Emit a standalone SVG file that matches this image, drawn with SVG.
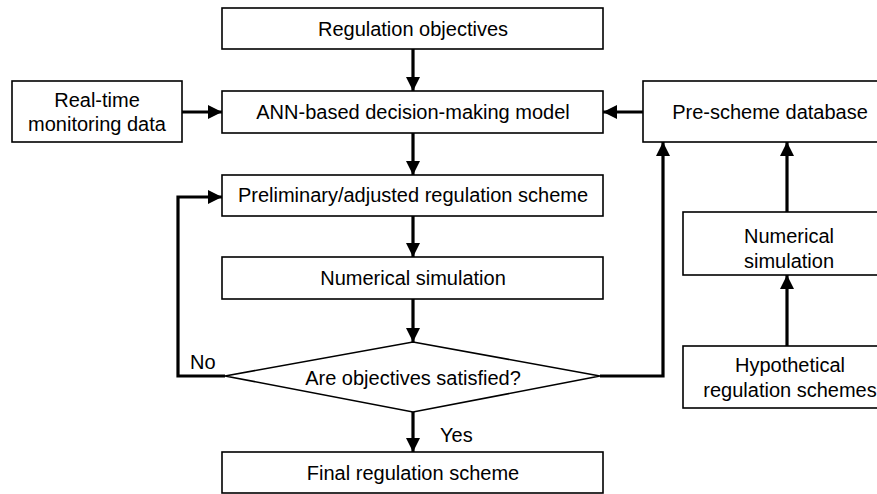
<svg xmlns="http://www.w3.org/2000/svg" width="877" height="494" viewBox="0 0 877 494">
<style>
.box{fill:#fff;stroke:#000;stroke-width:1.6}
.t{font-family:"Liberation Sans",Arial,sans-serif;font-size:20px;fill:#000;text-anchor:middle}
.l{font-family:"Liberation Sans",Arial,sans-serif;font-size:20px;fill:#000}
.c{fill:none;stroke:#000;stroke-width:3.2}
</style>
<defs>
<marker id="ah" markerUnits="userSpaceOnUse" markerWidth="15" markerHeight="15" refX="14" refY="7.5" orient="auto">
<path d="M0,0.5 L14,7.5 L0,14.5 Z" fill="#000"/>
</marker>
</defs>
<rect width="877" height="494" fill="#fff"/>
<g id="connectors">
<line class="c" x1="413" y1="49" x2="413" y2="91" marker-end="url(#ah)"/>
<line class="c" x1="182" y1="112" x2="222" y2="112" marker-end="url(#ah)"/>
<line class="c" x1="643" y1="112" x2="603" y2="112" marker-end="url(#ah)"/>
<line class="c" x1="413" y1="133" x2="413" y2="175" marker-end="url(#ah)"/>
<line class="c" x1="413" y1="216" x2="413" y2="257" marker-end="url(#ah)"/>
<line class="c" x1="413" y1="299" x2="413" y2="342" marker-end="url(#ah)"/>
<line class="c" x1="413" y1="412" x2="413" y2="452" marker-end="url(#ah)"/>
<polyline class="c" points="225,376 178,376 178,197 222,197" marker-end="url(#ah)"/>
<polyline class="c" points="600,376 663,376 663,142" marker-end="url(#ah)"/>
<line class="c" x1="787" y1="212" x2="787" y2="142" marker-end="url(#ah)"/>
<line class="c" x1="787" y1="346" x2="787" y2="275" marker-end="url(#ah)"/>
<text class="l" x="190" y="369">No</text>
<text class="l" x="440" y="442">Yes</text>
</g>
<g id="objectives">
<rect class="box" x="222" y="8" width="381" height="41"/>
<text class="t" x="413" y="36">Regulation objectives</text>
</g>
<g id="realtime">
<rect class="box" x="12" y="81" width="170" height="61"/>
<text class="t" x="97" y="107">Real-time</text>
<text class="t" x="97" y="131">monitoring data</text>
</g>
<g id="ann">
<rect class="box" x="222" y="91" width="381" height="42"/>
<text class="t" x="413" y="119">ANN-based decision-making model</text>
</g>
<g id="prescheme">
<rect class="box" x="643" y="81" width="254" height="61"/>
<text class="t" x="770" y="119">Pre-scheme database</text>
</g>
<g id="preliminary">
<rect class="box" x="222" y="175" width="381" height="41"/>
<text class="t" x="413" y="202">Preliminary/adjusted regulation scheme</text>
</g>
<g id="numsim">
<rect class="box" x="222" y="257" width="381" height="42"/>
<text class="t" x="413" y="285">Numerical simulation</text>
</g>
<g id="decision">
<polygon class="box" points="413,342 600,376 413,412 225,376"/>
<text class="t" x="413" y="385">Are objectives satisfied?</text>
</g>
<g id="final">
<rect class="box" x="222" y="452" width="381" height="41"/>
<text class="t" x="413" y="480">Final regulation scheme</text>
</g>
<g id="numsim2">
<rect class="box" x="683" y="212" width="208" height="63"/>
<text class="t" x="789" y="243">Numerical</text>
<text class="t" x="789" y="268">simulation</text>
</g>
<g id="hypothetical">
<rect class="box" x="683" y="346" width="208" height="62"/>
<text class="t" x="790" y="372">Hypothetical</text>
<text class="t" x="790" y="397">regulation schemes</text>
</g>
</svg>
